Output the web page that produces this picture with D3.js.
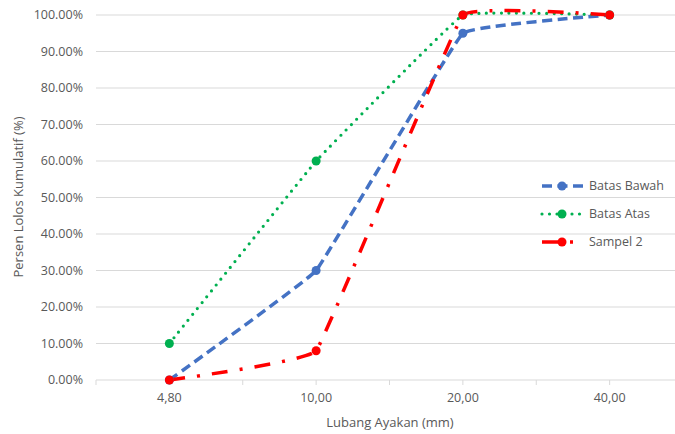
<!DOCTYPE html>
<html>
<head>
<meta charset="utf-8">
<script src="https://cdn.jsdelivr.net/npm/d3@7"></script>
<style>
  html, body { margin: 0; padding: 0; background: #fff; }
  svg { display: block; font-family: "Open Sans", "Liberation Sans", sans-serif; }
</style>
</head>
<body>
<svg id="chart" width="675" height="434"></svg>
<script>
// Sieve sizes (mm) and cumulative passing fractions
const categories = ["4,80", "10,00", "20,00", "40,00"];
const batasBawah = [0.00, 0.30, 0.95, 1.00];
const batasAtas  = [0.10, 0.60, 1.00, 1.00];
const sampel2    = [0.00, 0.08, 1.00, 1.00];
const yTicks = [0, 0.1, 0.2, 0.3, 0.4, 0.5, 0.6, 0.7, 0.8, 0.9, 1.0];

const seriesList = [
  { name: "Batas Bawah", values: batasBawah, color: "#4472C4", dash: "10,5.5",  cap: "butt",  width: 3.5 },
  { name: "Batas Atas",  values: batasAtas,  color: "#00B050", dash: "0,7.5",   cap: "round", width: 3.2 },
  { name: "Sampel 2",    values: sampel2,    color: "#FF0000", dash: "16,12,3,12", cap: "butt", width: 3.5 }
];

const svg = d3.select("#chart");
const plotLeft = 96, plotRight = 683, plotTop = 15, plotBottom = 380;

const x = d3.scaleBand().domain(categories).range([plotLeft, plotRight]).padding(0);
const y = d3.scaleLinear().domain([0, 1]).range([plotBottom, plotTop]);
const cx = c => x(c) + x.bandwidth() / 2;

// Horizontal gridlines
svg.append("g")
  .selectAll("line")
  .data(yTicks)
  .join("line")
  .attr("x1", plotLeft).attr("x2", plotRight)
  .attr("y1", d => y(d)).attr("y2", d => y(d))
  .attr("stroke", "#d9d9d9").attr("stroke-width", 1);

// Y tick labels
const fmt = d => (d * 100).toFixed(2) + "%";
svg.append("g")
  .selectAll("text")
  .data(yTicks)
  .join("text")
  .attr("x", 83).attr("y", d => y(d))
  .attr("dy", "0.35em")
  .attr("text-anchor", "end")
  .attr("fill", "#595959")
  .attr("font-size", 12.5)
  .text(fmt);

// X axis tick marks at band edges and band centres
const tickXs = [];
categories.forEach(c => { tickXs.push(x(c)); tickXs.push(cx(c)); });
tickXs.push(plotRight);
svg.append("g")
  .selectAll("line")
  .data(tickXs)
  .join("line")
  .attr("x1", d => d).attr("x2", d => d)
  .attr("y1", plotBottom).attr("y2", plotBottom + 5)
  .attr("stroke", "#d9d9d9").attr("stroke-width", 1);

// X category labels
svg.append("g")
  .selectAll("text")
  .data(categories)
  .join("text")
  .attr("x", d => cx(d)).attr("y", 398)
  .attr("dy", "0.35em")
  .attr("text-anchor", "middle")
  .attr("fill", "#595959")
  .attr("font-size", 12.5)
  .text(d => d);

// Axis titles
svg.append("text")
  .attr("x", 390).attr("y", 422)
  .attr("dy", "0.35em")
  .attr("text-anchor", "middle")
  .attr("fill", "#595959")
  .attr("font-size", 13)
  .text("Lubang Ayakan (mm)");

svg.append("text")
  .attr("transform", "translate(18,197) rotate(-90)")
  .attr("dy", "0.35em")
  .attr("text-anchor", "middle")
  .attr("fill", "#595959")
  .attr("font-size", 13)
  .text("Persen Lolos Kumulatif (%)");

// Lightly smoothed series lines
const line = d3.line()
  .x((d, i) => cx(categories[i]))
  .y(d => y(d))
  .curve(d3.curveCardinal.tension(0.82));

const plot = svg.append("g");
seriesList.forEach(s => {
  plot.append("path")
    .datum(s.values)
    .attr("d", line)
    .attr("fill", "none")
    .attr("stroke", s.color)
    .attr("stroke-width", s.width)
    .attr("stroke-dasharray", s.dash)
    .attr("stroke-linecap", s.cap);
});
seriesList.forEach(s => {
  plot.append("g")
    .selectAll("circle")
    .data(s.values)
    .join("circle")
    .attr("cx", (d, i) => cx(categories[i]))
    .attr("cy", d => y(d))
    .attr("r", 4.5)
    .attr("fill", s.color);
});

// Legend
const legend = svg.append("g");
const legY = [186, 214, 242];
seriesList.forEach((s, i) => {
  const g = legend.append("g").attr("transform", `translate(0,${legY[i]})`);
  g.append("line")
    .attr("x1", 542).attr("x2", 583)
    .attr("y1", 0).attr("y2", 0)
    .attr("stroke", s.color)
    .attr("stroke-width", s.width)
    .attr("stroke-dasharray", s.dash)
    .attr("stroke-linecap", s.cap);
  g.append("circle").attr("cx", 562).attr("cy", 0).attr("r", 4.5).attr("fill", s.color);
  g.append("text")
    .attr("x", 589).attr("y", 0)
    .attr("dy", "0.35em")
    .attr("fill", "#595959")
    .attr("font-size", 12.5)
    .text(s.name);
});
</script>
</body>
</html>
